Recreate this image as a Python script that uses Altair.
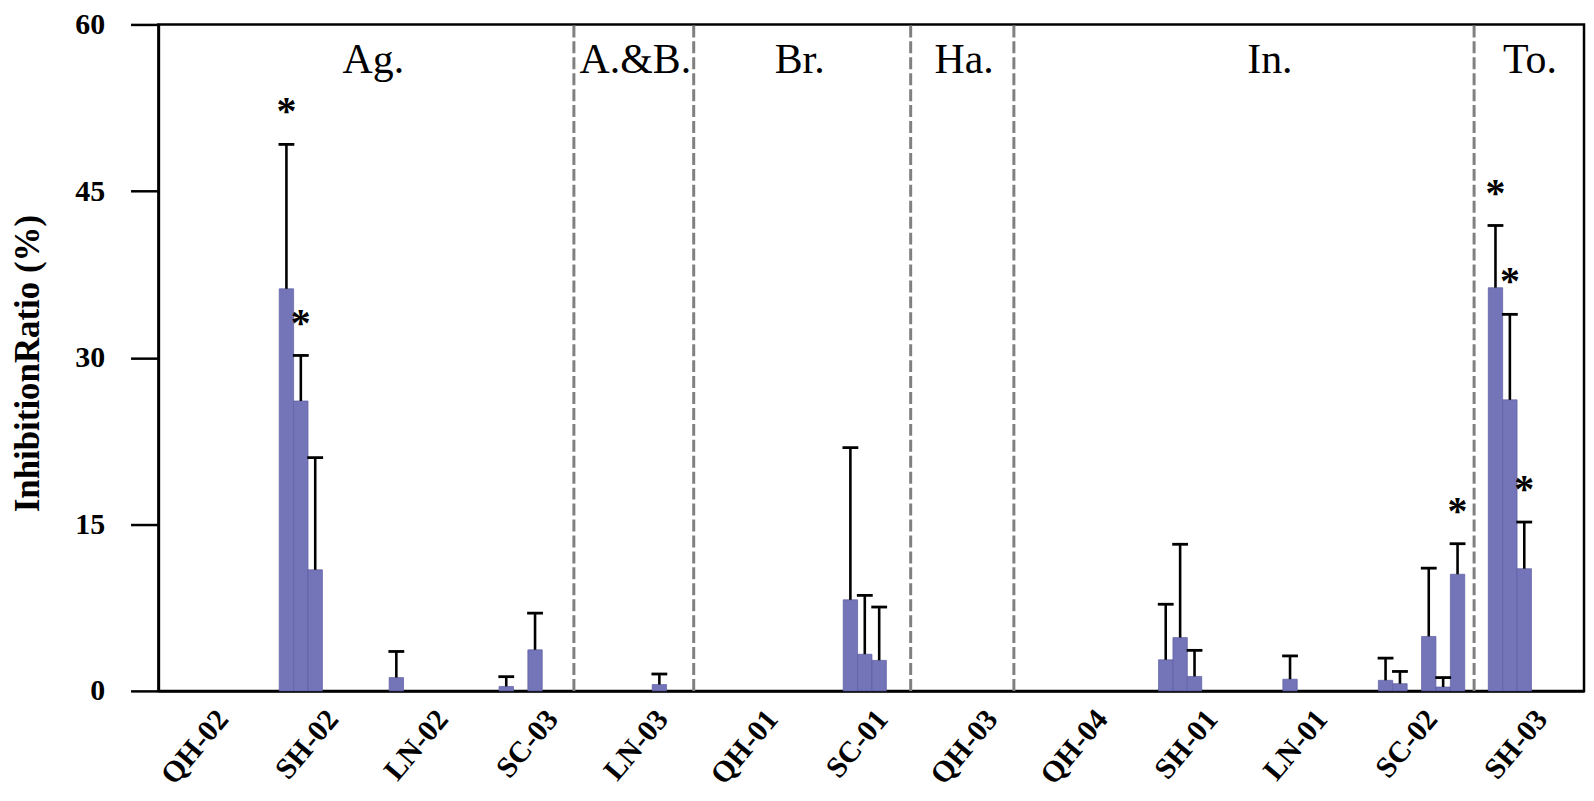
import json
import altair as alt
import pandas as pd

categories = ["QH-02", "SH-02", "LN-02", "SC-03", "LN-03", "QH-01", "SC-01",
              "QH-03", "QH-04", "SH-01", "LN-01", "SC-02", "SH-03"]

# mean inhibition ratio (%) for the six bars of each sample
mean_s1 = [0, 36.2, 1.2, 0.4, 0, 0, 0, 0, 0, 2.8, 0, 0.95, 36.3]
mean_s2 = [0, 26.1, 0, 0, 0, 0, 8.2, 0, 0, 4.8, 1.05, 0.65, 26.2]
mean_s3 = [0, 10.9, 0, 3.7, 0, 0, 3.3, 0, 0, 1.3, 0, 0, 11.0]
mean_s4 = [0, 0, 0, 0, 0.57, 0, 2.75, 0, 0, 0, 0, 4.9, 0]
mean_s5 = [0, 0, 0, 0, 0, 0, 0, 0, 0, 0, 0, 0.35, 0]
mean_s6 = [0, 0, 0, 0, 0, 0, 0, 0, 0, 0, 0, 10.5, 0]

# upper error (SD)
err_s1 = [0, 13.0, 2.35, 0.88, 0, 0, 0, 0, 0, 5.0, 0, 2.0, 5.6]
err_s2 = [0, 4.1, 0, 0, 0, 0, 13.7, 0, 0, 8.4, 2.1, 1.1, 7.7]
err_s3 = [0, 10.1, 0, 3.3, 0, 0, 5.3, 0, 0, 2.35, 0, 0, 4.2]
err_s4 = [0, 0, 0, 0, 0.95, 0, 4.8, 0, 0, 0, 0, 6.15, 0]
err_s5 = [0, 0, 0, 0, 0, 0, 0, 0, 0, 0, 0, 0.85, 0]
err_s6 = [0, 0, 0, 0, 0, 0, 0, 0, 0, 0, 0, 2.75, 0]

# significance asterisks (1 = marked)
star_s1 = [0, 1, 0, 0, 0, 0, 0, 0, 0, 0, 0, 0, 1]
star_s2 = [0, 1, 0, 0, 0, 0, 0, 0, 0, 0, 0, 0, 1]
star_s3 = [0, 0, 0, 0, 0, 0, 0, 0, 0, 0, 0, 0, 1]
star_s4 = [0] * 13
star_s5 = [0] * 13
star_s6 = [0, 0, 0, 0, 0, 0, 0, 0, 0, 0, 0, 1, 0]

group_names = ["Ag.", "A.&B.", "Br.", "Ha.", "In.", "To."]
group_pos = [1.463, 3.847, 5.342, 6.838, 9.62, 11.986]
boundaries = [3.288, 4.378, 6.352, 7.291, 11.478]

means = [mean_s1, mean_s2, mean_s3, mean_s4, mean_s5, mean_s6]
errs = [err_s1, err_s2, err_s3, err_s4, err_s5, err_s6]
stars = [star_s1, star_s2, star_s3, star_s4, star_s5, star_s6]

rows = []
for j in range(6):
    for i, c in enumerate(categories):
        rows.append({"idx": i, "cat": c, "series": j + 1,
                     "value": means[j][i], "err": errs[j][i], "star": stars[j][i]})
df = pd.DataFrame(rows)

FONT = "Liberation Serif"
BAR_W = 0.131
xscale = alt.Scale(domain=[-0.492, 12.478], nice=False, zero=False)
yscale = alt.Scale(domain=[0, 60], nice=False, zero=True)

label_expr = json.dumps(categories) + "[datum.value]"

xaxis = alt.Axis(values=list(range(13)), labelExpr=label_expr, title=None,
                 ticks=False, grid=False, labelAngle=-50, labelAlign="right",
                 labelBaseline="middle", labelFontSize=30, labelFontWeight="bold",
                 labelFont=FONT, labelColor="black", labelPadding=23, labelOffset=10,
                 labelFlush=False, labelOverlap=False, domainColor="black",
                 domainWidth=2.5)
yaxis = alt.Axis(values=[0, 15, 30, 45, 60], title="InhibitionRatio (%)", grid=False,
                 tickSize=28, tickWidth=2.5, tickColor="black", domainColor="black",
                 domainWidth=2.5, labelFont=FONT, labelFontSize=30,
                 labelFontWeight="bold", labelColor="black", labelPadding=26,
                 labelFlush=False, titleFont=FONT, titleFontSize=35,
                 titleFontWeight="bold", titleColor="black", titleX=-120, titleY=340,
                 titleBaseline="alphabetic")

base = alt.Chart(df).transform_calculate(
    xs=f"datum.idx + (datum.series - 4) * {BAR_W}",
    xe=f"datum.idx + (datum.series - 3) * {BAR_W}",
    xc=f"datum.idx + (datum.series - 3.5) * {BAR_W}",
    cl=f"datum.idx + (datum.series - 3.5) * {BAR_W} - 0.072",
    cr=f"datum.idx + (datum.series - 3.5) * {BAR_W} + 0.072",
    top="datum.value + datum.err",
)

bars = base.transform_filter("datum.value > 0").mark_bar(
    color="#7474b8", stroke="#5e5ea6", strokeWidth=0.7
).encode(
    x=alt.X("xs:Q", scale=xscale, axis=xaxis),
    x2="xe:Q",
    y=alt.Y("value:Q", scale=yscale, axis=yaxis),
    y2=alt.datum(0),
)

err_line = base.transform_filter("datum.err > 0").mark_rule(
    color="black", strokeWidth=2.6
).encode(x=alt.X("xc:Q", scale=xscale), y=alt.Y("value:Q", scale=yscale), y2="top:Q")

err_cap = base.transform_filter("datum.err > 0").mark_rule(
    color="black", strokeWidth=2.8
).encode(x=alt.X("cl:Q", scale=xscale), x2="cr:Q", y=alt.Y("top:Q", scale=yscale))

star_text = base.transform_filter("datum.star == 1").mark_text(
    text="*", font=FONT, fontSize=40, fontWeight="bold", color="black",
    baseline="alphabetic", align="center", dy=-20
).encode(x=alt.X("xc:Q", scale=xscale), y=alt.Y("top:Q", scale=yscale))

dashes = alt.Chart(pd.DataFrame({"b": boundaries})).mark_rule(
    color="#808080", strokeWidth=3, strokeDash=[12, 4]
).encode(x=alt.X("b:Q", scale=xscale), y=alt.datum(0), y2=alt.datum(60))

groups = alt.Chart(pd.DataFrame({"name": group_names, "pos": group_pos})).mark_text(
    font=FONT, fontSize=42, color="black", baseline="alphabetic", align="center"
).encode(x=alt.X("pos:Q", scale=xscale), y=alt.datum(55.66), text="name:N")

chart = alt.layer(dashes, bars, err_line, err_cap, star_text, groups).properties(
    width=1431, height=669,
    padding={"left": 151, "top": 15, "right": 2, "bottom": 101},
    autosize=alt.AutoSizeParams(type="none"),
    background="white",
).configure_view(stroke="black", strokeWidth=2.5)

chart.save("out.html", embed_options={"renderer": "svg", "actions": False})
